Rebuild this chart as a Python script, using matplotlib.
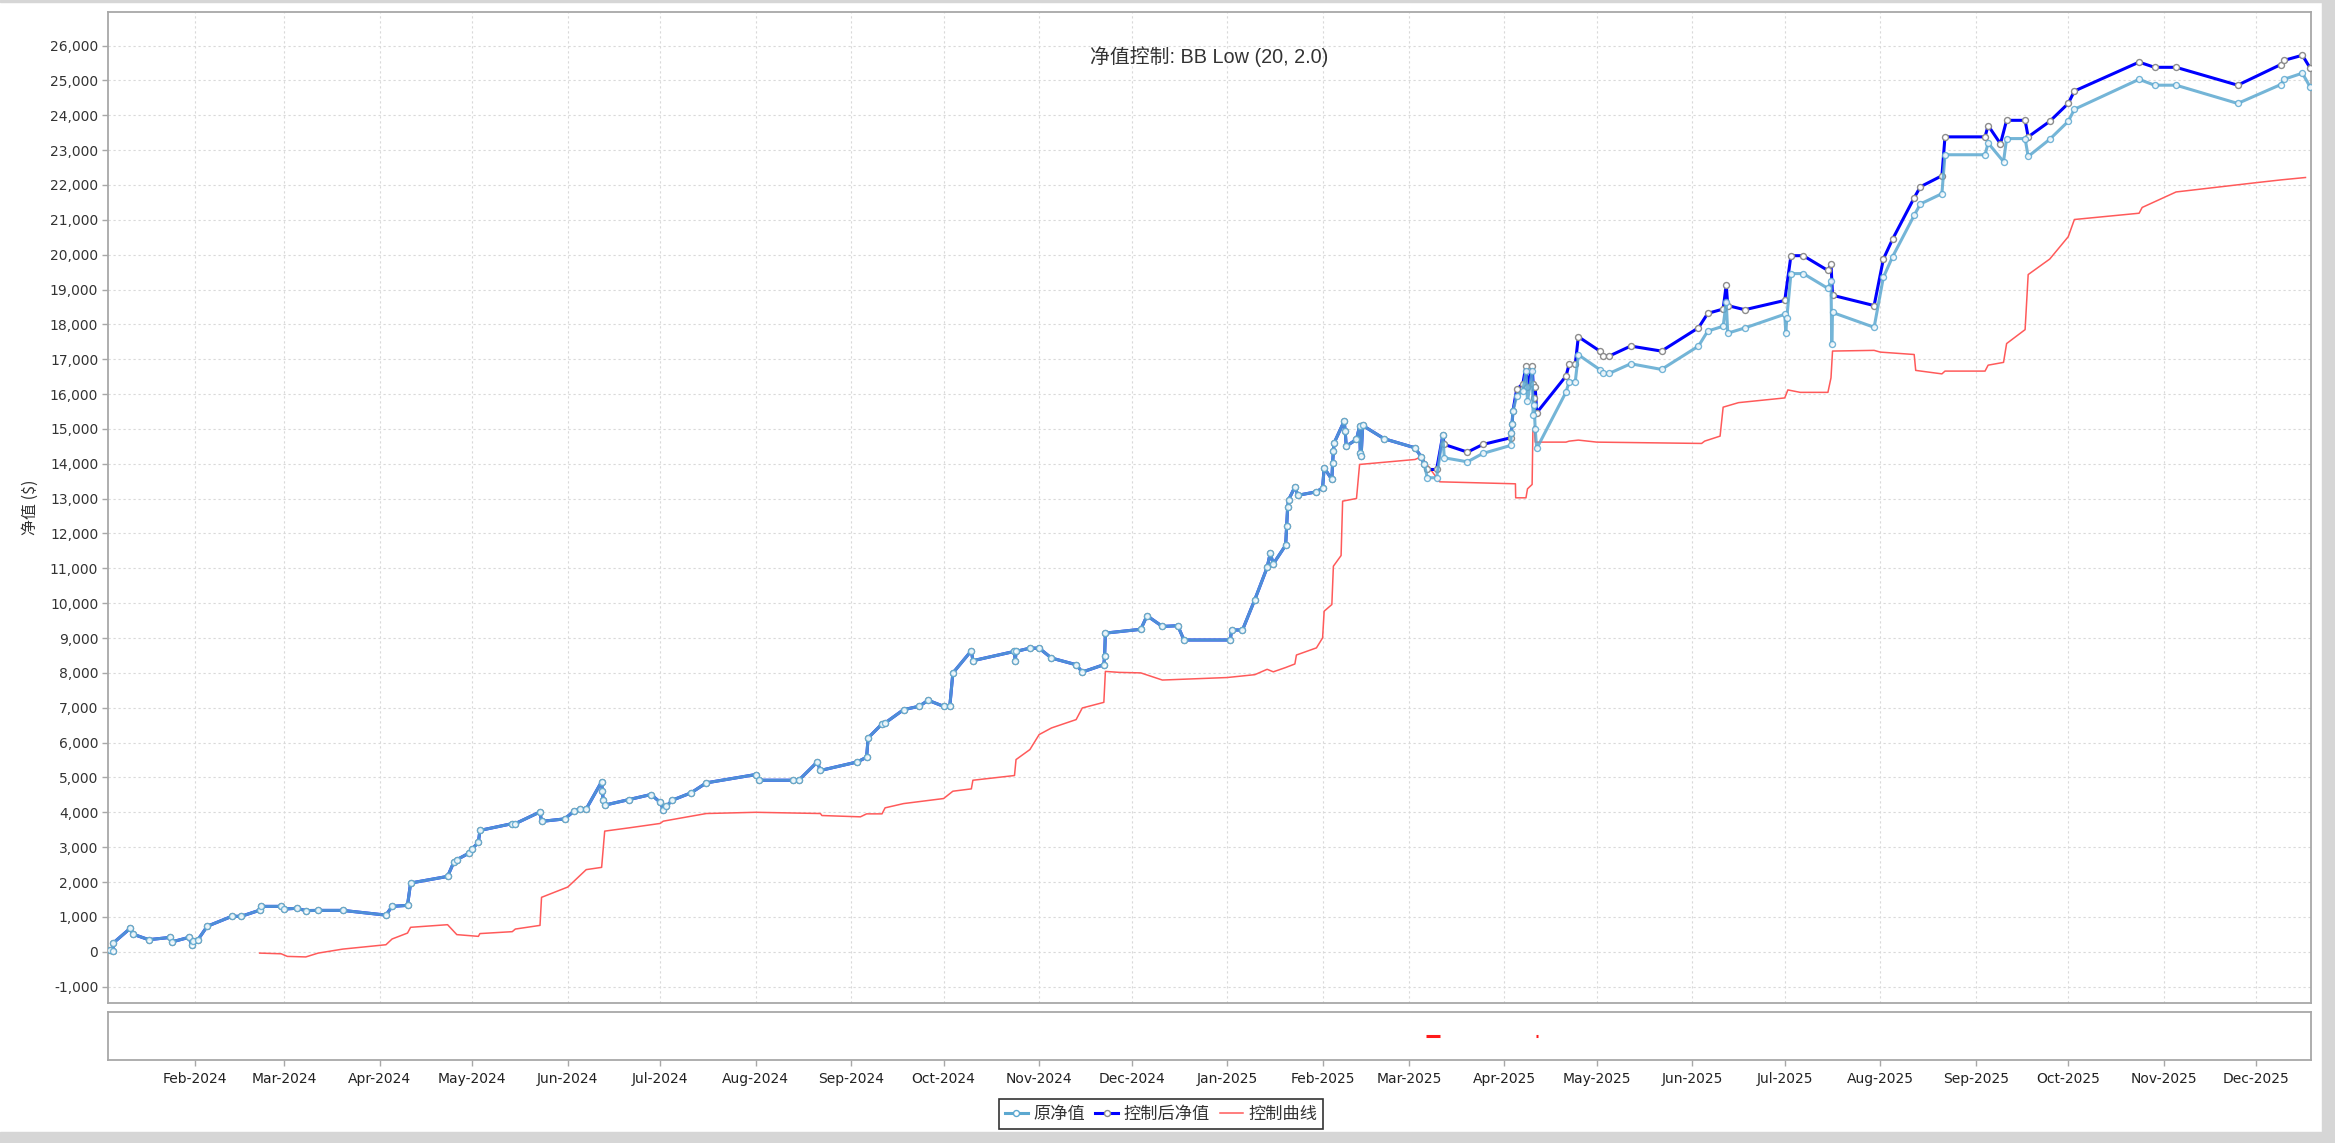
import matplotlib
matplotlib.use("Agg")
import matplotlib.pyplot as plt
import matplotlib.dates as mdates
from matplotlib.lines import Line2D
from matplotlib.patches import Rectangle
import pandas as pd

# ---------------- data ----------------
shared_dates = [
    "2024-01-04 14:00", "2024-01-05 10:00", "2024-01-05 12:00", "2024-01-11", "2024-01-12", "2024-01-17",
    "2024-01-24", "2024-01-24 12:00", "2024-01-30", "2024-01-31", "2024-01-31 12:00", "2024-02-02",
    "2024-02-05", "2024-02-13", "2024-02-16", "2024-02-22", "2024-02-22 12:00", "2024-02-29",
    "2024-03-01", "2024-03-05", "2024-03-08", "2024-03-12", "2024-03-20", "2024-04-03", "2024-04-05",
    "2024-04-10", "2024-04-11", "2024-04-23", "2024-04-25", "2024-04-26", "2024-04-30", "2024-05-01",
    "2024-05-03", "2024-05-03 12:00", "2024-05-14", "2024-05-15", "2024-05-23", "2024-05-23 12:00",
    "2024-05-31", "2024-06-03", "2024-06-05", "2024-06-07", "2024-06-12", "2024-06-12 06:00",
    "2024-06-12 12:00", "2024-06-13", "2024-06-21", "2024-06-28", "2024-07-01", "2024-07-02",
    "2024-07-03", "2024-07-05", "2024-07-11", "2024-07-16", "2024-08-01", "2024-08-02", "2024-08-13",
    "2024-08-15", "2024-08-21", "2024-08-22", "2024-09-03", "2024-09-06", "2024-09-06 12:00",
    "2024-09-11", "2024-09-12", "2024-09-18", "2024-09-23", "2024-09-26", "2024-10-01", "2024-10-03",
    "2024-10-04", "2024-10-10", "2024-10-10 12:00", "2024-10-24", "2024-10-24 06:00", "2024-10-24 12:00",
    "2024-10-29", "2024-11-01", "2024-11-05", "2024-11-13", "2024-11-15", "2024-11-22",
    "2024-11-22 06:00", "2024-11-22 12:00", "2024-12-04", "2024-12-06", "2024-12-11", "2024-12-16",
    "2024-12-18", "2025-01-02", "2025-01-02 12:00", "2025-01-06", "2025-01-10", "2025-01-14",
    "2025-01-15", "2025-01-16", "2025-01-20", "2025-01-20 08:00", "2025-01-20 16:00", "2025-01-21",
    "2025-01-23", "2025-01-24", "2025-01-30", "2025-02-01", "2025-02-01 12:00", "2025-02-04",
    "2025-02-04 06:00", "2025-02-04 12:00", "2025-02-04 18:00", "2025-02-08", "2025-02-08 08:00",
    "2025-02-08 16:00", "2025-02-12", "2025-02-13", "2025-02-13 06:00", "2025-02-13 12:00",
    "2025-02-14", "2025-02-21", "2025-03-03", "2025-03-05", "2025-03-06",
]
shared_vals = [
    57, 29, 249, 670, 500, 345,
    410, 280, 410, 200, 320, 345,
    730, 1015, 1015, 1190, 1300, 1300,
    1225, 1245, 1180, 1185, 1185, 1050, 1300,
    1330, 1970, 2160, 2565, 2640, 2830, 2950,
    3140, 3480, 3675, 3675, 4010, 3740,
    3810, 4030, 4095, 4095, 4880, 4600,
    4365, 4205, 4367, 4510, 4290, 4080,
    4175, 4350, 4557, 4845, 5083, 4920, 4920,
    4920, 5445, 5200, 5445, 5580, 6134,
    6535, 6563, 6945, 7041, 7213, 7041, 7041,
    7996, 8636, 8350, 8617, 8330, 8617,
    8710, 8710, 8426, 8235, 8025, 8235,
    8493, 9142, 9251, 9641, 9333, 9354,
    8944, 8944, 9231, 9231, 10103, 11026,
    11436, 11128, 11662, 12205, 12769, 12974,
    13333, 13097, 13196, 13311, 13885, 13550,
    14029, 14364, 14600, 15225, 14938,
    14507, 14699, 15081, 14316, 14220,
    15100, 14718, 14459, 14200, 13980,
]

orig_tail_dates = [
    "2025-03-07", "2025-03-10", "2025-03-12", "2025-03-12 12:00", "2025-03-20", "2025-03-25",
    "2025-04-03", "2025-04-03 06:00", "2025-04-03 12:00", "2025-04-03 18:00", "2025-04-05", "2025-04-07",
    "2025-04-08", "2025-04-08 12:00", "2025-04-10", "2025-04-10 08:00", "2025-04-10 16:00",
    "2025-04-11", "2025-04-11 12:00",
    "2025-04-21", "2025-04-22", "2025-04-24", "2025-04-25", "2025-05-02", "2025-05-03", "2025-05-05",
    "2025-05-12", "2025-05-22", "2025-06-03", "2025-06-06", "2025-06-11", "2025-06-12", "2025-06-12 12:00",
    "2025-06-18", "2025-07-01", "2025-07-01 08:00", "2025-07-01 16:00", "2025-07-03", "2025-07-07",
    "2025-07-15", "2025-07-16", "2025-07-16 06:00", "2025-07-16 12:00", "2025-07-30", "2025-08-02",
    "2025-08-05", "2025-08-12", "2025-08-14", "2025-08-21", "2025-08-22", "2025-09-04", "2025-09-05",
    "2025-09-10", "2025-09-11", "2025-09-17", "2025-09-18", "2025-09-25", "2025-10-01", "2025-10-03",
    "2025-10-24", "2025-10-29", "2025-11-05", "2025-11-25", "2025-12-09", "2025-12-10", "2025-12-16",
    "2025-12-18 12:00",
]
orig_tail_vals = [
    13600, 13600, 14813, 14172, 14057, 14297,
    14526, 14890, 15130, 15510, 15943, 16100,
    16650, 15800, 16650, 15400, 15700,
    14985, 14440,
    16057, 16354, 16354, 17129, 16700, 16593, 16593,
    16871, 16708, 17378, 17809, 17947, 18638, 17749,
    17897, 18292, 17749, 18191, 19458, 19458,
    19033, 19240, 17433, 18342, 17917, 19350,
    19943, 21128, 21455, 21751, 22868, 22868, 23204,
    22670, 23332, 23332, 22818, 23312, 23826, 24172,
    25032, 24864, 24864, 24340, 24883, 25032, 25209,
    24814,
]

ctrl_tail_dates = [
    "2025-03-07", "2025-03-10", "2025-03-12", "2025-03-12 12:00", "2025-03-20", "2025-03-25",
    "2025-04-03", "2025-04-03 06:00", "2025-04-03 12:00", "2025-04-03 18:00", "2025-04-05", "2025-04-07",
    "2025-04-08", "2025-04-08 12:00", "2025-04-10", "2025-04-10 08:00", "2025-04-10 16:00",
    "2025-04-11", "2025-04-11 12:00",
    "2025-04-21", "2025-04-22", "2025-04-24", "2025-04-25", "2025-05-02", "2025-05-03", "2025-05-05",
    "2025-05-12", "2025-05-22", "2025-06-03", "2025-06-06", "2025-06-11", "2025-06-12", "2025-06-12 12:00",
    "2025-06-18", "2025-07-01", "2025-07-03", "2025-07-07",
    "2025-07-15", "2025-07-16", "2025-07-16 12:00", "2025-07-30", "2025-08-02",
    "2025-08-05", "2025-08-12", "2025-08-14", "2025-08-21", "2025-08-22", "2025-09-04", "2025-09-05",
    "2025-09-09", "2025-09-11", "2025-09-17", "2025-09-18", "2025-09-25", "2025-10-01", "2025-10-03",
    "2025-10-24", "2025-10-29", "2025-11-05", "2025-11-25", "2025-12-09", "2025-12-10", "2025-12-16",
    "2025-12-18 12:00",
]
ctrl_tail_vals = [
    13837, 13837, 14813, 14555, 14335, 14555,
    14746, 14890, 15130, 15510, 16134, 16300,
    16804, 16200, 16804, 16300, 15900,
    16210, 15464,
    16517, 16852, 16852, 17646, 17234, 17091, 17091,
    17378, 17234, 17904, 18316, 18441, 19133, 18540,
    18421, 18688, 19972, 19972,
    19547, 19745, 18836, 18540, 19874,
    20447, 21632, 21949, 22265, 23381, 23381, 23707,
    23184, 23856, 23856, 23381, 23826, 24340, 24696,
    25526, 25377, 25377, 24864, 25457, 25575, 25723,
    25358,
]

ctrl_curve_dates = [
    "2024-02-22", "2024-02-29", "2024-03-02", "2024-03-08", "2024-03-12", "2024-03-20", "2024-04-03",
    "2024-04-05", "2024-04-10", "2024-04-11", "2024-04-23", "2024-04-26", "2024-05-03",
    "2024-05-03 12:00", "2024-05-14", "2024-05-15", "2024-05-23", "2024-05-23 12:00", "2024-06-01",
    "2024-06-03", "2024-06-07", "2024-06-12", "2024-06-13", "2024-06-21", "2024-07-01", "2024-07-02",
    "2024-07-05", "2024-07-16", "2024-08-01", "2024-08-22", "2024-08-22 12:00", "2024-09-04",
    "2024-09-06", "2024-09-11", "2024-09-12", "2024-09-18", "2024-10-01", "2024-10-04", "2024-10-10",
    "2024-10-10 12:00", "2024-10-24", "2024-10-24 12:00", "2024-10-29", "2024-11-01", "2024-11-05",
    "2024-11-13", "2024-11-15", "2024-11-22", "2024-11-22 12:00", "2024-11-27", "2024-12-04",
    "2024-12-11", "2025-01-01", "2025-01-10", "2025-01-14", "2025-01-16", "2025-01-20", "2025-01-23",
    "2025-01-23 12:00", "2025-01-30", "2025-02-01", "2025-02-01 12:00", "2025-02-04",
    "2025-02-04 12:00", "2025-02-07", "2025-02-07 12:00", "2025-02-12", "2025-02-13", "2025-03-03",
    "2025-03-05", "2025-03-11", "2025-04-04 14:00", "2025-04-04 16:00", "2025-04-08", "2025-04-08 12:00",
    "2025-04-10", "2025-04-10 06:00", "2025-04-10 18:00", "2025-04-11", "2025-04-21", "2025-04-22",
    "2025-04-25", "2025-05-01", "2025-06-04", "2025-06-05", "2025-06-10", "2025-06-11", "2025-06-16",
    "2025-07-01", "2025-07-02", "2025-07-06", "2025-07-15", "2025-07-16", "2025-07-16 12:00", "2025-07-30",
    "2025-08-01", "2025-08-12", "2025-08-12 12:00", "2025-08-21", "2025-08-22", "2025-09-04",
    "2025-09-05", "2025-09-10", "2025-09-11", "2025-09-17", "2025-09-18", "2025-09-25", "2025-10-01",
    "2025-10-03", "2025-10-24", "2025-10-25", "2025-11-05", "2025-12-01", "2025-12-09", "2025-12-17",
]
ctrl_curve_vals = [
    -40, -60, -135, -150, -40, 75, 200,
    365, 535, 700, 775, 490, 440,
    520, 575, 650, 755, 1560, 1855,
    2020, 2355, 2420, 3460, 3555, 3680, 3745,
    3793, 3965, 4000, 3965, 3907, 3870,
    3955, 3955, 4128, 4250, 4395, 4605, 4672,
    4920, 5055, 5513, 5800, 6230, 6420,
    6660, 6993, 7155, 8043, 8015, 8000,
    7795, 7867, 7949, 8103, 8031, 8154, 8256,
    8513, 8718, 9005, 9770, 9962,
    11062, 11368, 12928, 13005, 13981, 14124,
    14200, 13483, 13426, 13024, 13024, 13282,
    13407, 14938, 15080, 14622, 14622, 14650,
    14680, 14622, 14584, 14651, 14794, 15625, 15755,
    15890, 16120, 16050, 16050, 16465, 17235, 17255,
    17205, 17136, 16680, 16580, 16660, 16660,
    16830, 16910, 17450, 17850, 19430, 19875, 20516,
    21010, 21190, 21356, 21800, 22067, 22146, 22215,
]

signal_start = ["2025-03-06 12:00", "2025-04-11 06:00"]
signal_end = ["2025-03-11 06:00", "2025-04-12"]

title_text = "净值控制: BB Low (20, 2.0)"
ylabel_text = "净值 ($)"
legend_labels = ["原净值", "控制后净值", "控制曲线"]

# ---------------- style ----------------
W, H = 2335, 1143
LIGHT = "#5ca8d0"
DARK = "#0000ff"
RED = "#ff5a5a"
GRID = "#d9d9d9"
SPINE = "#a8a8a8"
CJK = ["Noto Sans CJK SC", "DejaVu Sans"]
LAT_CJK = ["Liberation Sans", "Noto Sans CJK SC"]

plt.rcParams["font.family"] = ["DejaVu Sans", "Noto Sans CJK SC"]


def to_dt(lst):
    return pd.to_datetime(lst, format="mixed")


fig = plt.figure(figsize=(W / 100, H / 100), dpi=100, facecolor="white")

# window frame (grey border of the screenshot)
fig.patches.append(Rectangle((2322 / W, 0), 1, 1, transform=fig.transFigure, color="#d6d6d6", zorder=-5))
fig.patches.append(Rectangle((0, 0), 1, (H - 1132) / H, transform=fig.transFigure, color="#d6d6d6", zorder=-5))
fig.patches.append(Rectangle((0, 1 - 2 / H), 1, 2 / H, transform=fig.transFigure, color="#d6d6d6", zorder=-5))

left, right = 108, 2311
ax = fig.add_axes([left / W, 1 - 1003 / H, (right - left) / W, (1003 - 12) / H])
ax2 = fig.add_axes([left / W, 1 - 1059.5 / H, (right - left) / W, (1059.5 - 1012) / H], sharex=ax)

orig_x = to_dt(shared_dates + orig_tail_dates)
orig_y = shared_vals + orig_tail_vals
ctrl_x = to_dt(shared_dates + ctrl_tail_dates)
ctrl_y = shared_vals + ctrl_tail_vals
red_x = to_dt(ctrl_curve_dates)

ax.plot(red_x, ctrl_curve_vals, color=RED, lw=1.1, zorder=2)
ax.plot(ctrl_x, ctrl_y, color=DARK, lw=2.2, marker="o", ms=4.3, mfc="white", mec="#8c8c8c",
        mew=1.0, zorder=3)
ax.plot(orig_x, orig_y, color=LIGHT, lw=2.2, alpha=0.85, marker="o", ms=4.3, mfc="white",
        mec=LIGHT, mew=1.0, zorder=4)

ax.set_xlim(pd.Timestamp("2024-01-03 19:00"), pd.Timestamp("2025-12-18 19:00"))
ax.set_ylim(-1472, 26964)
ax.set_yticks(range(-1000, 26001, 1000))
ax.set_yticklabels([f"{v:,}" for v in range(-1000, 26001, 1000)])
ax.xaxis.set_major_locator(mdates.MonthLocator())
ax.xaxis.set_major_formatter(mdates.DateFormatter("%b-%Y"))
ax.tick_params(axis="x", which="both", length=0, labelbottom=False)
ax.tick_params(axis="y", length=4, width=1, color=SPINE, labelsize=10, labelcolor="#333333", pad=3)
ax.grid(True, color=GRID, lw=0.8, linestyle=(0, (2, 2.5)))
ax.set_axisbelow(True)
for s in ax.spines.values():
    s.set_color(SPINE)
    s.set_linewidth(1.3)

ax.text(0.5, 1 - (56.7 - 12) / (1003 - 12), title_text, transform=ax.transAxes, ha="center",
        va="center", fontsize=14.3, color="#333333", family=LAT_CJK)
fig.text(30 / W, 1 - 507 / H, ylabel_text, rotation=90, ha="center", va="center", fontsize=11.5,
         color="#333333", family=CJK)

# bottom signal panel
for s0, s1 in zip(signal_start, signal_end):
    ax2.hlines(1, pd.Timestamp(s0), pd.Timestamp(s1), color="#ff1a1a", lw=2.2)
ax2.set_ylim(0, 2)
ax2.set_yticks([])
ax2.tick_params(axis="x", length=4, width=1, color=SPINE, labelsize=10, labelcolor="#222222", pad=5)
for s in ax2.spines.values():
    s.set_color(SPINE)
    s.set_linewidth(1.3)

handles = [
    Line2D([], [], color=LIGHT, lw=2.2, marker="o", ms=4.3, mfc="white", mec=LIGHT),
    Line2D([], [], color=DARK, lw=2.2, marker="o", ms=4.3, mfc="white", mec="#8c8c8c"),
    Line2D([], [], color=RED, lw=1.1),
]
leg = fig.legend(handles, legend_labels, loc="center", bbox_to_anchor=(1161 / W, 1 - 1113.7 / H),
                 ncol=3, frameon=True, fancybox=False, edgecolor="black",
                 handlelength=1.35, handletextpad=0.3, columnspacing=0.6, borderpad=0.35,
                 prop={"family": CJK, "size": 12.4})
leg.get_frame().set_linewidth(1.2)
for t in leg.get_texts():
    t.set_color("#333333")

fig.savefig("out.png", dpi=100, facecolor=fig.get_facecolor())
